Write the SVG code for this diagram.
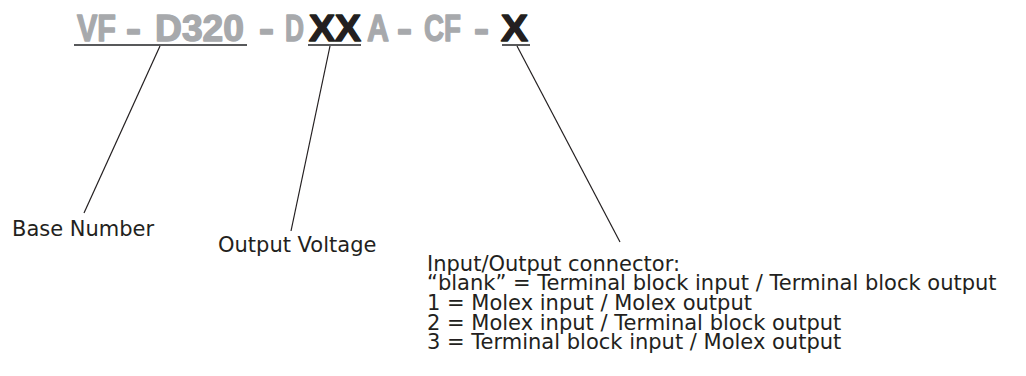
<svg xmlns="http://www.w3.org/2000/svg" width="1026" height="376" viewBox="0 0 1026 376">
<style>
.h{font-family:"Liberation Sans Narrow","Liberation Sans",Arial,sans-serif;font-weight:bold;font-size:37px;stroke-width:1.4;stroke-linejoin:round}
.g{fill:#a7a9ac;stroke:#a7a9ac}
.k{fill:#231f20;stroke:#231f20}
.u{stroke:#58595b;stroke-width:2}
.c{stroke:#231f20;stroke-width:1.2;fill:none}
.t{font-family:"DejaVu Sans",Verdana,sans-serif;font-size:21px;fill:#231f20}
</style>
<rect width="1026" height="376" fill="#fff"/>
<g id="code">
<text class="h g" x="77" y="41" textLength="39" lengthAdjust="spacingAndGlyphs">VF</text>
<text class="h g" x="126" y="41" textLength="15" lengthAdjust="spacingAndGlyphs">-</text>
<text class="h g" x="155" y="41" textLength="89" lengthAdjust="spacingAndGlyphs">D320</text>
<text class="h g" x="259" y="41" textLength="15" lengthAdjust="spacingAndGlyphs">-</text>
<text class="h g" x="285" y="41" textLength="19" lengthAdjust="spacingAndGlyphs">D</text>
<text class="h k" x="309" y="41" textLength="52" lengthAdjust="spacingAndGlyphs">XX</text>
<text class="h g" x="367" y="41" textLength="22" lengthAdjust="spacingAndGlyphs">A</text>
<text class="h g" x="397" y="41" textLength="15" lengthAdjust="spacingAndGlyphs">-</text>
<text class="h g" x="424" y="41" textLength="37" lengthAdjust="spacingAndGlyphs">CF</text>
<text class="h g" x="474" y="41" textLength="15" lengthAdjust="spacingAndGlyphs">-</text>
<text class="h k" x="501" y="41" textLength="27" lengthAdjust="spacingAndGlyphs">X</text>
<line class="u" x1="74" y1="45" x2="247" y2="45"/>
<line class="u" x1="308" y1="45" x2="361" y2="45"/>
<line class="u" x1="502" y1="45" x2="530" y2="45"/>
</g>
<g id="connectors">
<line class="c" x1="160" y1="46" x2="84" y2="213"/>
<line class="c" x1="330" y1="46" x2="291" y2="231"/>
<line class="c" x1="517" y1="46" x2="620" y2="242"/>
</g>
<g id="base-number">
<text class="t" x="12" y="236">Base Number</text>
</g>
<g id="output-voltage">
<text class="t" x="218" y="252">Output Voltage</text>
</g>
<g id="io-connector">
<text class="t" x="427" y="271">Input/Output connector:</text>
<text class="t" x="427" y="290">“blank” = Terminal block input / Terminal block output</text>
<text class="t" x="427" y="310">1 = Molex input / Molex output</text>
<text class="t" x="427" y="330">2 = Molex input / Terminal block output</text>
<text class="t" x="427" y="349">3 = Terminal block input / Molex output</text>
</g>
</svg>
